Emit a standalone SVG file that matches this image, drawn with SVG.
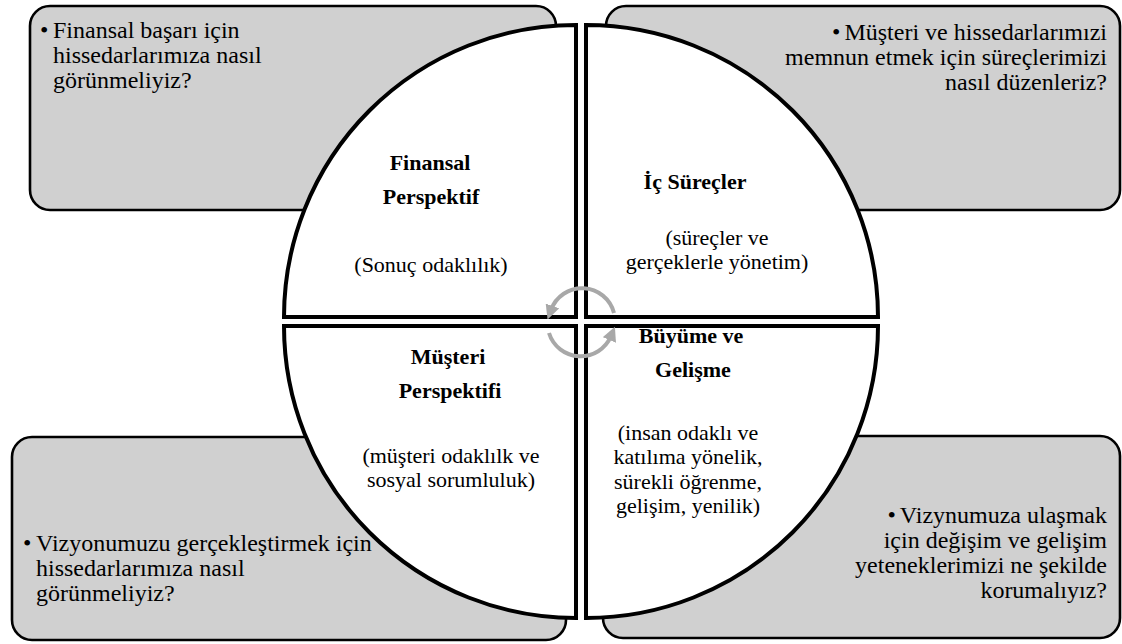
<svg xmlns="http://www.w3.org/2000/svg" width="1122" height="644" viewBox="0 0 1122 644">
  <defs>
    <style>
      .box { fill: #d0d0d0; stroke: #000; stroke-width: 2.6; }
      .quad { fill: #fff; stroke: #000; stroke-width: 4; stroke-linejoin: miter; }
      .q { font-family: 'Liberation Serif', 'DejaVu Serif', serif; font-size: 24px; fill: #000; }
      .t { font-family: 'Liberation Serif', 'DejaVu Serif', serif; font-size: 22px; fill: #000; text-anchor: middle; }
      .b { font-weight: bold; }
      .cyc { fill: none; stroke: #a8a8a8; stroke-width: 4; }
    </style>
    <marker id="head" viewBox="0 0 10 10" refX="3" refY="5" markerWidth="3.6" markerHeight="3.6" orient="auto" markerUnits="strokeWidth">
      <path d="M0,0 L10,5 L0,10 Z" fill="#a8a8a8"/>
    </marker>
  </defs>

  <!-- question boxes behind the circle -->
  <g id="box-financial">
    <rect class="box" x="30" y="6" width="526" height="204" rx="20"/>
    <text class="q" x="40" y="38">•</text>
    <text class="q" x="53" y="38">Finansal başarı için</text>
    <text class="q" x="53" y="63">hissedarlarımıza nasıl</text>
    <text class="q" x="53" y="88">görünmeliyiz?</text>
  </g>
  <g id="box-process">
    <rect class="box" x="606" y="6" width="514" height="204" rx="20"/>
    <text class="q" x="1107" y="40" text-anchor="end"><tspan>•</tspan><tspan dx="4">Müşteri ve hissedarlarımızi</tspan></text>
    <text class="q" x="1107" y="65" text-anchor="end">memnun etmek için süreçlerimizi</text>
    <text class="q" x="1107" y="90" text-anchor="end">nasıl düzenleriz?</text>
  </g>
  <g id="box-customer">
    <rect class="box" x="12" y="437" width="554" height="203" rx="20"/>
    <text class="q" x="23" y="551">•</text>
    <text class="q" x="36" y="551">Vizyonumuzu gerçekleştirmek için</text>
    <text class="q" x="36" y="576">hissedarlarımıza nasıl</text>
    <text class="q" x="36" y="601">görünmeliyiz?</text>
  </g>
  <g id="box-growth">
    <rect class="box" x="603" y="436" width="517" height="202" rx="20"/>
    <text class="q" x="1107" y="523" text-anchor="end"><tspan>•</tspan><tspan dx="4">Vizynumuza ulaşmak</tspan></text>
    <text class="q" x="1107" y="548" text-anchor="end">için değişim ve gelişim</text>
    <text class="q" x="1107" y="573" text-anchor="end">yeteneklerimizi ne şekilde</text>
    <text class="q" x="1107" y="598" text-anchor="end">korumalıyız?</text>
  </g>

  <!-- circle split into four quarters -->
  <g id="quad-financial">
    <path class="quad" d="M576,317 L284,317 A292,292 0 0 1 576,25 Z"/>
    <text class="t b" x="430" y="170">Finansal</text>
    <text class="t b" x="431" y="204">Perspektif</text>
    <text class="t" x="431" y="272">(Sonuç odaklılık)</text>
  </g>
  <g id="quad-process">
    <path class="quad" d="M586,317 L586,25 A292,292 0 0 1 878,317 Z"/>
    <text class="t b" x="695" y="189">İç Süreçler</text>
    <text class="t" x="717" y="245">(süreçler ve</text>
    <text class="t" x="717" y="269">gerçeklerle yönetim)</text>
  </g>
  <g id="quad-customer">
    <path class="quad" d="M576,326 L576,618 A292,292 0 0 1 284,326 Z"/>
    <text class="t b" x="448" y="364">Müşteri</text>
    <text class="t b" x="450" y="398">Perspektifi</text>
    <text class="t" x="451" y="463">(müşteri odaklılk ve</text>
    <text class="t" x="451" y="487">sosyal sorumluluk)</text>
  </g>
  <g id="quad-growth">
    <path class="quad" d="M586,326 L878,326 A292,292 0 0 1 586,618 Z"/>
    <text class="t b" x="691" y="343">Büyüme ve</text>
    <text class="t b" x="693" y="377">Gelişme</text>
    <text class="t" x="688" y="440">(insan odaklı ve</text>
    <text class="t" x="688" y="464">katılıma yönelik,</text>
    <text class="t" x="688" y="489">sürekli öğrenme,</text>
    <text class="t" x="688" y="513">gelişim, yenilik)</text>
  </g>

  <!-- cycle arrows in the middle -->
  <g id="connectors">
    <path class="cyc" d="M614,313 A33,33 0 0 0 551,310" marker-end="url(#head)"/>
    <path class="cyc" d="M549,333 A33,33 0 0 0 611,336" marker-end="url(#head)"/>
  </g>
</svg>
